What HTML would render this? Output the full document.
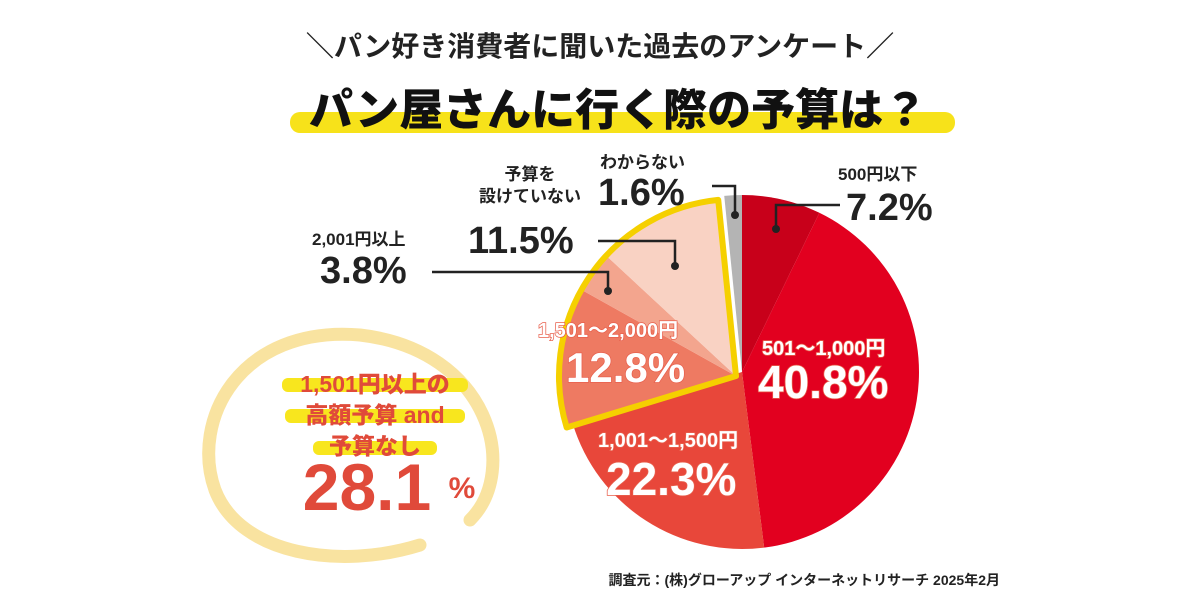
<!DOCTYPE html>
<html><head><meta charset="utf-8"><style>
body{margin:0;background:#fff;}
svg{display:block}
text{font-family:"Liberation Sans","Noto Sans CJK JP",sans-serif;}
</style></head><body>
<svg id="s" width="1200" height="600" viewBox="0 0 1200 600" xmlns="http://www.w3.org/2000/svg">
<rect width="1200" height="600" fill="#fff"/>
<text x="600" y="56" text-anchor="middle" font-size="28" font-weight="bold" fill="#222" font-family="Noto Sans CJK JP,sans-serif">＼パン好き消費者に聞いた過去のアンケート／</text>
<rect x="290" y="112" width="665" height="21" rx="10" fill="#f7e21a"/>
<text x="618" y="125" text-anchor="middle" font-size="44" font-weight="900" fill="#111" font-family="Noto Sans CJK JP,sans-serif">パン屋さんに行く際の予算は？</text>
<g id="pie"></g>
<path d="M470,520 C520,470 490,350 360,335 C240,325 190,420 215,490 C240,555 340,570 420,545" fill="none" stroke="#f9e3a0" stroke-width="13" stroke-linecap="round"/>
<rect x="282" y="378" width="186" height="14" rx="6" fill="#f8e61e"/>
<rect x="285" y="409" width="180" height="14" rx="6" fill="#f8e61e"/>
<rect x="313" y="441" width="124" height="14" rx="6" fill="#f8e61e"/>
<g font-family="Noto Sans CJK JP,sans-serif" font-weight="900" fill="#e04a3a" text-anchor="middle">
<text x="375" y="392" font-size="23">1,501円以上の</text>
<text x="375" y="423" font-size="23">高額予算 and</text>
<text x="375" y="454" font-size="23">予算なし</text>
</g>
<text x="367" y="510" text-anchor="middle" font-size="66" font-weight="bold" fill="#e04a3a">28.1</text>
<text x="462" y="498" text-anchor="middle" font-size="30" font-weight="bold" fill="#e04a3a">%</text>
<g fill="#222" font-weight="bold">
<text x="838" y="180" font-size="17">500円以下</text>
<text x="846" y="220" font-size="38">7.2%</text>
<text x="600" y="168" font-size="17">わからない</text>
<text x="598" y="205" font-size="38">1.6%</text>
<text x="530" y="180" font-size="17" text-anchor="middle">予算を</text>
<text x="530" y="202" font-size="17" text-anchor="middle">設けていない</text>
<text x="468" y="253" font-size="38">11.5%</text>
<text x="312" y="245" font-size="17">2,001円以上</text>
<text x="320" y="283" font-size="38">3.8%</text>
</g>
<g stroke="#222" stroke-width="2.5" fill="none">
<polyline points="712,186 735,186 735,212"/>
<polyline points="840,205 776,205 776,228"/>
<polyline points="598,241 675,241 675,264"/>
<polyline points="432,272 608,272 608,290"/>
</g>
<g fill="#222"><circle cx="735" cy="215" r="4"/><circle cx="776" cy="229" r="4"/><circle cx="675" cy="266" r="4"/><circle cx="608" cy="291" r="4"/></g>
<g fill="#fff" font-weight="bold" stroke="#e8604d" stroke-width="1.5" paint-order="stroke">
<text x="762" y="355" font-size="20">501～1,000円</text>
<text x="758" y="398" font-size="46">40.8%</text>
<text x="598" y="447" font-size="20">1,001～1,500円</text>
<text x="606" y="495" font-size="46">22.3%</text>
<text x="538" y="337" font-size="20">1,501～2,000円</text>
<text x="566" y="382" font-size="42">12.8%</text>
</g>
<text x="1000" y="585" text-anchor="end" font-size="14" font-weight="bold" fill="#222" font-family="Noto Sans CJK JP,sans-serif">調査元：(株)グローアップ  インターネットリサーチ  2025年2月</text>
</svg>
<script>
var cx=742,cy=372,r=177;
var d=[[7.2,"#c8001a"],[40.8,"#e2001f"],[22.3,"#e8473a"],[12.8,"#ee7a62"],[3.8,"#f3a58e"],[11.5,"#f9d2c3"],[1.6,"#b4b4b4"]];
var a=0,g=document.getElementById("pie"),h="";
function pt(t,R){var rad=(t-90)*Math.PI/180;return [cx+R*Math.cos(rad),cy+R*Math.sin(rad)];}
function arc(a0,a1,R,x,y){var p0=pt(a0,R),p1=pt(a1,R);p0=[p0[0]+x,p0[1]+y];p1=[p1[0]+x,p1[1]+y];return "M"+(cx+x)+","+(cy+y)+"L"+p0+"A"+R+","+R+" 0 "+((a1-a0)>180?1:0)+" 1 "+p1+"Z";}
var hs=0,he=0;
d.forEach(function(e,i){var s=e[0]*3.6;var ox=0,oy=0;if(i>=3&&i<=5){ox=-6;oy=4;}if(i==3)hs=a;if(i==5)he=a+s;
h+='<path d="'+arc(a,a+s,r,ox,oy)+'" fill="'+e[1]+'"/>';a+=s;});
h+='<path d="'+arc(hs,he,r,-6,4)+'" fill="none" stroke="#f5d000" stroke-width="6" stroke-linejoin="round"/>';
g.innerHTML=h;
</script>
</body></html>
